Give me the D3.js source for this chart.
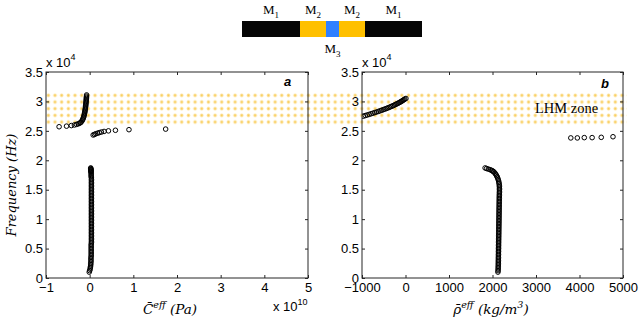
<!DOCTYPE html>
<html>
<head>
<meta charset="utf-8">
<script src="https://cdn.jsdelivr.net/npm/d3@7"></script>
<style>
  body { margin: 0; background: #fff; }
  svg text { font-family: "Liberation Sans", Arial, sans-serif; fill: #000; }
  .axis .tick text { font-size: 13px; }
  .axis .tick line { stroke: #262626; }
  .serif { font-family: "DejaVu Serif", serif !important; font-style: italic; }
  .mat { font-family: "Liberation Serif", serif !important; }
</style>
</head>
<body>
<div id="chart"></div>
<script>
// frequency in units of 1e4 Hz, C_eff in 1e10 Pa, rho_eff in kg/m^3
const fLower = [0.100, 0.125, 0.150, 0.175, 0.200, 0.225, 0.250, 0.275, 0.300, 0.325,
  0.350, 0.375, 0.400, 0.425, 0.450, 0.475, 0.500, 0.525, 0.550, 0.575,
  0.600, 0.625, 0.650, 0.675, 0.700, 0.725, 0.750, 0.775, 0.800, 0.825,
  0.850, 0.875, 0.900, 0.925, 0.950, 0.975, 1.000, 1.025, 1.050, 1.075,
  1.100, 1.125, 1.150, 1.175, 1.200, 1.225, 1.250, 1.275, 1.300, 1.325,
  1.350, 1.375, 1.400, 1.425, 1.450, 1.475, 1.500, 1.525, 1.550, 1.575,
  1.600, 1.625, 1.650, 1.675, 1.700, 1.720, 1.740, 1.760, 1.780, 1.800,
  1.810, 1.820, 1.830, 1.840, 1.850, 1.860, 1.870];
const cLower = [-0.01, 0.00, 0.01, 0.015, 0.02, 0.025, 0.025, 0.03, 0.03, 0.03,
  0.03, 0.035, 0.035, 0.035, 0.035, 0.035, 0.035, 0.035, 0.035, 0.035,
  0.04, 0.04, 0.04, 0.04, 0.04, 0.04, 0.04, 0.04, 0.04, 0.04,
  0.04, 0.04, 0.04, 0.04, 0.04, 0.04, 0.04, 0.04, 0.04, 0.04,
  0.04, 0.04, 0.04, 0.04, 0.04, 0.04, 0.04, 0.04, 0.04, 0.04,
  0.04, 0.04, 0.04, 0.04, 0.04, 0.04, 0.04, 0.04, 0.04, 0.04,
  0.04, 0.04, 0.04, 0.04, 0.04, 0.035, 0.035, 0.035, 0.035, 0.03,
  0.03, 0.03, 0.03, 0.03, 0.025, 0.025, 0.025];
const rhoLower = [2125, 2128, 2130, 2131, 2132, 2133, 2134, 2134, 2135, 2135,
  2136, 2136, 2137, 2137, 2138, 2138, 2139, 2139, 2140, 2140,
  2141, 2141, 2142, 2142, 2143, 2143, 2144, 2144, 2145, 2145,
  2146, 2146, 2147, 2147, 2148, 2148, 2149, 2149, 2150, 2150,
  2151, 2151, 2152, 2152, 2153, 2153, 2154, 2154, 2155, 2155,
  2156, 2156, 2157, 2158, 2159, 2160, 2160, 2160, 2159, 2157,
  2153, 2147, 2140, 2130, 2118, 2106, 2092, 2077, 2058, 2035,
  2018, 2000, 1975, 1945, 1905, 1865, 1830];

// [C, f] above the band gap
const cNegative = [[-0.70, 2.57], [-0.53, 2.58], [-0.42, 2.59], [-0.35, 2.60], [-0.30, 2.61],
  [-0.26, 2.62], [-0.23, 2.63], [-0.21, 2.64], [-0.195, 2.65], [-0.175, 2.67],
  [-0.16, 2.69], [-0.15, 2.71], [-0.14, 2.73], [-0.132, 2.75], [-0.125, 2.77],
  [-0.119, 2.79], [-0.114, 2.81], [-0.109, 2.83], [-0.105, 2.85], [-0.101, 2.87],
  [-0.097, 2.89], [-0.094, 2.91], [-0.091, 2.93], [-0.088, 2.95], [-0.085, 2.97],
  [-0.083, 2.99], [-0.080, 3.01], [-0.078, 3.03], [-0.076, 3.05], [-0.074, 3.07],
  [-0.072, 3.09], [-0.070, 3.11]];
const cPositive = [[0.08, 2.43], [0.11, 2.44], [0.14, 2.45], [0.18, 2.46], [0.22, 2.47],
  [0.27, 2.48], [0.33, 2.49], [0.43, 2.50], [0.59, 2.51], [0.90, 2.52], [1.74, 2.53]];

// [rho, f]
const rhoNegative = [[-970, 2.75], [-925, 2.76], [-880, 2.77], [-835, 2.78], [-792, 2.79],
  [-750, 2.80], [-708, 2.81], [-667, 2.82], [-626, 2.83], [-586, 2.84],
  [-548, 2.85], [-511, 2.86], [-475, 2.87], [-440, 2.88], [-406, 2.89],
  [-373, 2.90], [-341, 2.91], [-310, 2.92], [-280, 2.93], [-251, 2.94],
  [-223, 2.95], [-196, 2.96], [-170, 2.97], [-145, 2.98], [-121, 2.99],
  [-98, 3.00], [-76, 3.01], [-55, 3.02], [-35, 3.03], [-16, 3.04], [10, 3.05]];
const rhoLarge = [[3800, 2.38], [3950, 2.38], [4110, 2.385], [4290, 2.385], [4500, 2.39], [4770, 2.40]];

const lhmBand = [2.60, 3.16];

const freqTicks = [0, 0.5, 1, 1.5, 2, 2.5, 3, 3.5];
const cTicks = [-1, 0, 1, 2, 3, 4, 5];
const rhoTicks = [-1000, 0, 1000, 2000, 3000, 4000, 5000];

const layerNames = ["M1", "M2", "M3", "M2", "M1"];
const layerWidths = [58, 26, 13, 26, 57];
const layerColors = ["#050505", "#ffc000", "#2f80ff", "#ffc000", "#050505"];

const svg = d3.select("#chart").append("svg").attr("width", 639).attr("height", 328);

const y = d3.scaleLinear().domain([0, 3.5]).range([278, 72]);
const xC = d3.scaleLinear().domain([-1, 5]).range([46, 308]);
const xR = d3.scaleLinear().domain([-1000, 5000]).range([362, 623]);
const fmt = d3.format("");

// LHM band pattern
const defs = svg.append("defs");
const pat = defs.append("pattern")
  .attr("id", "lhm")
  .attr("patternUnits", "userSpaceOnUse")
  .attr("x", 45).attr("y", y(lhmBand[1]))
  .attr("width", 6.67).attr("height", 6.67);
pat.append("circle").attr("cx", 3.33).attr("cy", 3.33).attr("r", 1.8).attr("fill", "#fde3a0");
pat.append("circle").attr("cx", 3.33).attr("cy", 3.33).attr("r", 0.9).attr("fill", "#f8c94f");

svg.append("rect")
  .attr("x", 45)
  .attr("y", y(lhmBand[1]))
  .attr("width", xR.range()[1] + 4 - 45)
  .attr("height", y(lhmBand[0]) - y(lhmBand[1]))
  .attr("fill", "url(#lhm)");

function panel(x, ticks, id) {
  const [x0, x1] = x.range();
  const g = svg.append("g");
  defs.append("clipPath").attr("id", id)
    .append("rect").attr("x", x0).attr("y", 72).attr("width", x1 - x0).attr("height", 206);

  g.append("g").attr("class", "axis")
    .attr("transform", `translate(${x0},0)`)
    .call(d3.axisLeft(y).tickValues(freqTicks).tickSize(-3).tickPadding(3).tickFormat(fmt))
    .call((s) => s.select(".domain").remove());
  g.append("g").attr("class", "axis")
    .attr("transform", `translate(${x1},0)`)
    .call(d3.axisRight(y).tickValues(freqTicks).tickSize(-3).tickFormat(""))
    .call((s) => s.select(".domain").remove());
  g.append("g").attr("class", "axis")
    .attr("transform", "translate(0,278)")
    .call(d3.axisBottom(x).tickValues(ticks).tickSize(-3).tickPadding(5).tickFormat(fmt))
    .call((s) => s.select(".domain").remove());
  g.append("g").attr("class", "axis")
    .attr("transform", "translate(0,72)")
    .call(d3.axisTop(x).tickValues(ticks).tickSize(-3).tickFormat(""))
    .call((s) => s.select(".domain").remove());
  g.append("rect")
    .attr("x", x0).attr("y", 72).attr("width", x1 - x0).attr("height", 206)
    .attr("fill", "none").attr("stroke", "#262626").attr("stroke-width", 1);

  const exp = g.append("text").attr("x", x0).attr("y", 67).style("font-size", "13px");
  exp.append("tspan").text("x 10");
  exp.append("tspan").attr("dy", -7).style("font-size", "9px").text("4");

  return g.append("g").attr("clip-path", `url(#${id})`);
}

function markers(g, data, x) {
  g.selectAll(null)
    .data(data)
    .join("circle")
    .attr("cx", (d) => x(d[0]))
    .attr("cy", (d) => y(d[1]))
    .attr("r", 2.3)
    .attr("fill", "none")
    .attr("stroke", "#000")
    .attr("stroke-width", 1);
}

const gC = panel(xC, cTicks, "clipC");
markers(gC, fLower.map((f, i) => [cLower[i], f]), xC);
markers(gC, cNegative, xC);
markers(gC, cPositive, xC);

const gR = panel(xR, rhoTicks, "clipR");
markers(gR, fLower.map((f, i) => [rhoLower[i], f]), xR);
markers(gR, rhoNegative, xR);
markers(gR, rhoLarge, xR);

// panel letters
svg.append("text").attr("x", 284).attr("y", 86)
  .style("font-size", "13px").style("font-weight", "bold").style("font-style", "italic").text("a");
svg.append("text").attr("x", 601).attr("y", 88)
  .style("font-size", "13px").style("font-weight", "bold").style("font-style", "italic").text("b");

svg.append("text").attr("class", "mat").attr("x", 535).attr("y", 113)
  .style("font-size", "14.5px").text("LHM zone");

// x 10^10 multiplier
const exp10 = svg.append("text").attr("x", 273).attr("y", 311).style("font-size", "13px");
exp10.append("tspan").text("x 10");
exp10.append("tspan").attr("dy", -6).style("font-size", "9px").text("10");

// axis labels
const yl = svg.append("text").attr("class", "serif")
  .attr("transform", "translate(16,185) rotate(-90)")
  .attr("text-anchor", "middle").style("font-size", "13px");
yl.text("Frequency (Hz)");

const xl = svg.append("text").attr("class", "serif")
  .attr("x", 170).attr("y", 314).attr("text-anchor", "middle").style("font-size", "13.5px");
xl.append("tspan").text("C\u0304");
xl.append("tspan").attr("dy", -6).style("font-size", "9.5px").text("eff");
xl.append("tspan").attr("dy", 6).text(" (Pa)");

const xr = svg.append("text").attr("class", "serif")
  .attr("x", 491).attr("y", 314).attr("text-anchor", "middle").style("font-size", "13.5px");
xr.append("tspan").text("\u03c1\u0304");
xr.append("tspan").attr("dy", -6).style("font-size", "9.5px").text("eff");
xr.append("tspan").attr("dy", 6).text(" (kg/m");
xr.append("tspan").attr("dy", -6).style("font-size", "9.5px").text("3");
xr.append("tspan").attr("dy", 6).text(")");

// layer schematic
const total = d3.sum(layerWidths);
const xs = d3.scaleLinear().domain([0, total]).range([242, 422]);
const starts = d3.cumsum([0, ...layerWidths]);
const layers = layerNames.map((name, i) => ({ name, a: starts[i], b: starts[i + 1], color: layerColors[i], i }));

svg.selectAll(".layer")
  .data(layers)
  .join("rect")
  .attr("class", "layer")
  .attr("x", (d) => xs(d.a))
  .attr("y", 21)
  .attr("width", (d) => xs(d.b) - xs(d.a))
  .attr("height", 16)
  .attr("fill", (d) => d.color);

const lab = svg.selectAll(".layer-label")
  .data(layers)
  .join("text")
  .attr("class", "layer-label mat")
  .attr("x", (d) => (xs(d.a) + xs(d.b)) / 2)
  .attr("y", (d) => (d.name === "M3" ? 53 : 14))
  .attr("text-anchor", "middle")
  .style("font-size", "13px");
lab.append("tspan").text((d) => d.name[0]);
lab.append("tspan").attr("dy", 4).style("font-size", "9px").text((d) => d.name.slice(1));
</script>
</body>
</html>
